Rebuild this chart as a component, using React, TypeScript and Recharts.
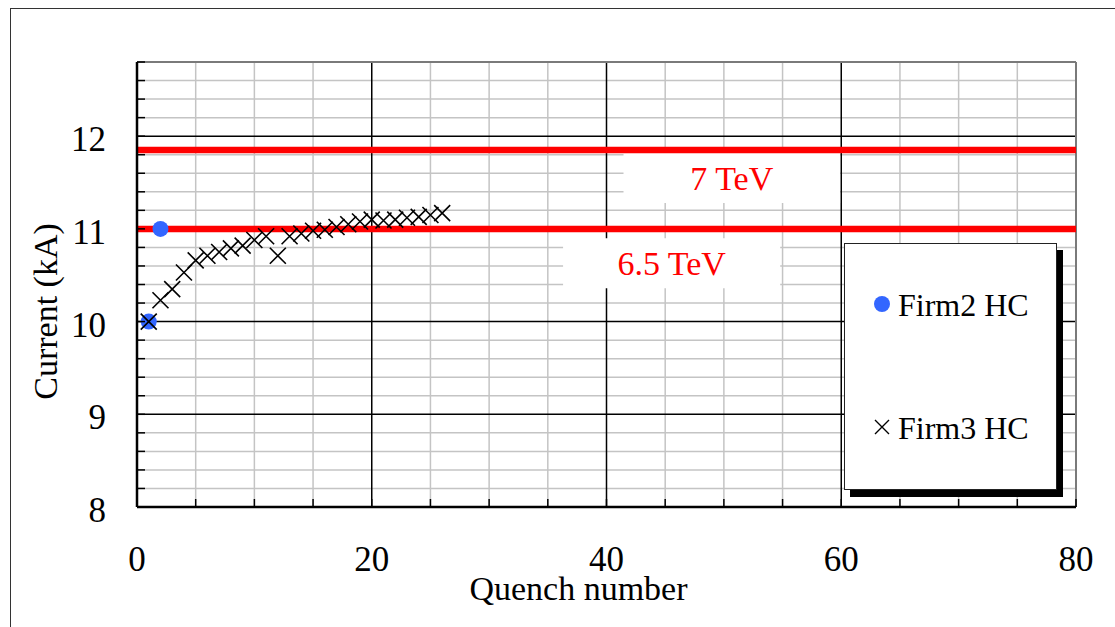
import React from 'react';
import { ScatterChart, Scatter, XAxis, YAxis, CartesianGrid, ReferenceLine, ReferenceArea, Legend } from 'recharts';

// Firm2 HC (blue dots)
const firm2Quench = [1, 2];
const firm2Current = [10.0, 11.0];

// Firm3 HC (crosses)
const firm3Quench = [1, 2, 3, 4, 5, 6, 7, 8, 9, 10, 11, 12, 13, 14, 15, 16, 17, 18, 19, 20, 21, 22, 23, 24, 25, 26];
const firm3Current = [
  10.0, 10.23, 10.35, 10.53, 10.66, 10.71, 10.75, 10.79, 10.82, 10.88, 10.92, 10.71, 10.92,
  10.95, 10.98, 10.99, 11.02, 11.05, 11.08, 11.1, 11.09, 11.1, 11.12, 11.13, 11.15, 11.17,
];

// beam energy limits
const energyLabels = ['7 TeV', '6.5 TeV'];
const energyCurrents = [11.85, 11.0];

// axes
const xTicks = [0, 5, 10, 15, 20, 25, 30, 35, 40, 45, 50, 55, 60, 65, 70, 75, 80];
const xMajor = [0, 20, 40, 60, 80];
const yTicks = Array.from({ length: 25 }, (_, i) => Math.round((8 + i * 0.2) * 10) / 10);
const yMajor = [8, 9, 10, 11, 12];

const FONT = '"Liberation Serif", "Times New Roman", serif';
const BLUE = '#3366ff';
const GRID = '#c4c4c4';

const firm2 = firm2Quench.map((q, i) => ({ q, current: firm2Current[i] }));
const firm3 = firm3Quench.map((q, i) => ({ q, current: firm3Current[i] }));

const crossPath = (cx: number, cy: number, h: number) =>
  `M${cx - h},${cy - h}L${cx + h},${cy + h}M${cx - h},${cy + h}L${cx + h},${cy - h}`;

const CrossShape = (props: any) => {
  const { cx, cy } = props;
  return <path d={crossPath(cx, cy, 8)} stroke="#000" strokeWidth={1.6} fill="none" />;
};

const DotShape = (props: any) => {
  const { cx, cy } = props;
  return <circle cx={cx} cy={cy} r={8} fill={BLUE} />;
};

const YTick = (props: any) => {
  const { x, y, payload } = props;
  const v = payload.value;
  return (
    <g>
      <line x1={x} x2={x + 8} y1={y} y2={y} stroke="#000" strokeWidth={1.5} />
      {yMajor.includes(v) && (
        <text x={x - 31} y={y + 15} textAnchor="end" fontSize={35} fontFamily={FONT} fill="#000">
          {v}
        </text>
      )}
    </g>
  );
};

const XTick = (props: any) => {
  const { x, y, payload } = props;
  const v = payload.value;
  return (
    <g>
      <line x1={x} x2={x} y1={y} y2={y - 8} stroke="#000" strokeWidth={1.5} />
      {xMajor.includes(v) && (
        <text x={x} y={y + 64} textAnchor="middle" fontSize={35} fontFamily={FONT} fill="#000">
          {v}
        </text>
      )}
    </g>
  );
};

const LegendBox = (props: any) => {
  const { payload = [] } = props;
  return (
    <div
      style={{
        width: 213,
        height: 247,
        boxSizing: 'border-box',
        border: '1.5px solid #222',
        background: '#fff',
        boxShadow: '6px 7px 0 #000',
      }}
    >
      <svg width={210} height={244} style={{ display: 'block' }}>
        {payload.map((entry: any, i: number) => {
          const cy = 60 + i * 123;
          return (
            <g key={entry.value}>
              {entry.value === 'Firm2 HC' ? (
                <circle cx={37} cy={cy} r={8} fill={BLUE} />
              ) : (
                <path d={crossPath(37, cy, 7)} stroke="#000" strokeWidth={1.4} fill="none" />
              )}
              <text x={53} y={cy + 12} fontSize={32} fontFamily={FONT} fill="#000">
                {entry.value}
              </text>
            </g>
          );
        })}
      </svg>
    </div>
  );
};

export default function App() {
  return (
    <div style={{ position: 'fixed', left: 0, top: 0, width: 1115, height: 627, overflow: 'hidden', background: '#fff' }}>
      <div
        style={{
          position: 'absolute',
          left: 10,
          top: 8,
          width: 1200,
          height: 700,
          border: '1.5px solid #333',
        }}
      />
      <div style={{ position: 'absolute', left: 0, top: 0 }}>
        <ScatterChart width={1115} height={627} margin={{ top: 62, right: 39, left: 77, bottom: 20 }}>
          <CartesianGrid
            stroke={GRID}
            strokeWidth={1.5}
            verticalValues={xTicks.filter((t) => !xMajor.includes(t))}
            horizontalValues={yTicks.filter((t) => !yMajor.includes(t) && t < 12.8)}
          />
          <CartesianGrid
            stroke="#000"
            strokeWidth={1.5}
            verticalValues={xMajor.filter((t) => t > 0 && t < 80)}
            horizontalValues={yMajor.filter((t) => t > 8)}
          />
          <XAxis
            type="number"
            dataKey="q"
            domain={[0, 80]}
            ticks={xTicks}
            interval={0}
            tickSize={0}
            tickMargin={0}
            tickLine={false}
            tick={<XTick />}
            height={100}
            axisLine={{ stroke: '#000', strokeWidth: 2.5 }}
            label={{
              value: 'Quench number',
              position: 'insideBottom',
              offset: 7,
              dx: -28,
              fontSize: 34,
              fontFamily: FONT,
              fill: '#000',
            }}
          />
          <YAxis
            type="number"
            dataKey="current"
            domain={[8, 12.8]}
            ticks={yTicks}
            interval={0}
            tickSize={0}
            tickMargin={0}
            tickLine={false}
            tick={<YTick />}
            width={60}
            axisLine={{ stroke: '#000', strokeWidth: 2.5 }}
            label={{
              content: (p: any) => {
                const vb = p.viewBox;
                const cx = vb.x - 32;
                const cy = vb.y + vb.height / 2 + 27;
                return (
                  <text
                    transform={`translate(${cx},${cy}) rotate(-90)`}
                    textAnchor="middle"
                    dominantBaseline="central"
                    fontSize={34}
                    fontFamily={FONT}
                    fill="#000"
                  >
                    Current (kA)
                  </text>
                );
              },
            }}
          />

          <ReferenceArea
            x1={41.45}
            x2={59.9}
            y1={11.28}
            y2={11.82}
            fill="#fff"
            fillOpacity={1}
            stroke="none"
            label={{ value: energyLabels[0], position: 'center', fontSize: 34, fontFamily: FONT, fill: '#ff0000' }}
          />
          <ReferenceArea
            x1={36.3}
            x2={54.8}
            y1={10.36}
            y2={10.9}
            fill="#fff"
            fillOpacity={1}
            stroke="none"
            label={{ value: energyLabels[1], position: 'center', fontSize: 34, fontFamily: FONT, fill: '#ff0000' }}
          />
          <ReferenceLine x={80} stroke="#7a7a7a" strokeWidth={2} />
          <ReferenceLine y={12.8} stroke="#7a7a7a" strokeWidth={2} />
          {energyCurrents.map((c, i) => (
            <ReferenceLine key={energyLabels[i]} y={c} stroke="#ff0000" strokeWidth={6.5} />
          ))}

          <Scatter name="Firm2 HC" data={firm2} fill={BLUE} shape={DotShape} isAnimationActive={false} />
          <Scatter name="Firm3 HC" data={firm3} fill="#000" shape={CrossShape} isAnimationActive={false} />

          <Legend
            layout="vertical"
            align="center"
            verticalAlign="middle"
            width={213}
            height={247}
            wrapperStyle={{ left: 844, top: 243, width: 213, height: 247 }}
            content={<LegendBox />}
          />
        </ScatterChart>
      </div>
    </div>
  );
}
